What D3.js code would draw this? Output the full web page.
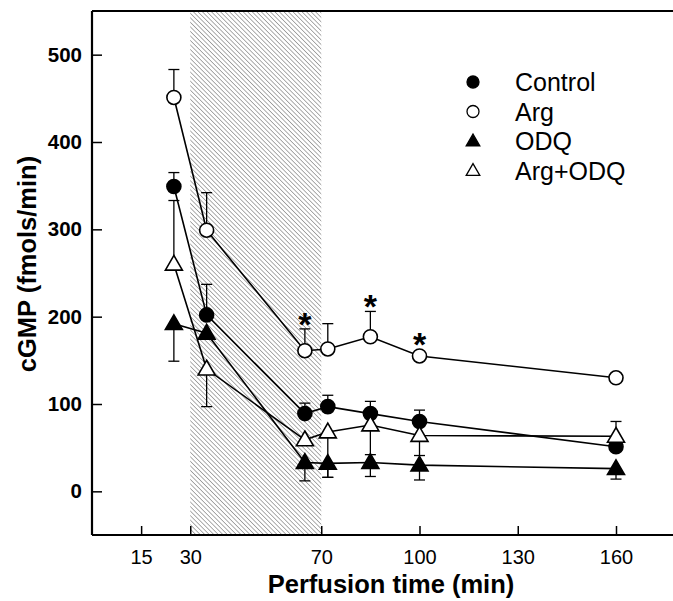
<!DOCTYPE html>
<html><head><meta charset="utf-8">
<script src="https://cdn.jsdelivr.net/npm/d3@7"></script>
<style>
body{margin:0;background:#fff;}
svg{display:block;font-family:"Liberation Sans",Arial,sans-serif;}
</style></head>
<body>
<script>
// ---- data ----
const times = [25, 35, 65, 72, 85, 100, 160];
const seriesNames = ["Control", "Arg", "ODQ", "Arg+ODQ"];
const control = [349, 202, 89, 97, 89, 80, 51];
const controlErrUp = [16, 35, 12, 13, 14, 13, 0];
const controlErrDown = [0, 0, 0, 0, 0, 0, 0];
const arg = [451, 299, 161, 163, 177, 155, 130];
const argErrUp = [32, 43, 25, 29, 29, 0, 0];
const argErrDown = [0, 0, 0, 0, 0, 0, 0];
const odq = [192, 181, 33, 32, 33, 30, 26];
const odqErrUp = [0, 0, 0, 0, 0, 0, 0];
const odqErrDown = [43, 0, 21, 16, 16, 17, 12];
const argOdq = [260, 140, 59, 68, 76, 64, 63];
const argOdqErrUp = [73, 0, 0, 0, 0, 0, 17];
const argOdqErrDown = [0, 43, 0, 52, 34, 23, 0];
const significant = [65, 85, 100]; // Arg points marked *
const shadeRange = [30, 70];
const xTicks = [15, 30, 70, 100, 130, 160];
const yTicks = [0, 100, 200, 300, 400, 500];
const xDomain = [0, 180];
const yDomain = [-50, 550];

const W = 673, H = 601;
const svg = d3.select("body").append("svg").attr("width", W).attr("height", H);
const x = d3.scaleLinear().domain(xDomain).range([92, 681.5]);
const y = d3.scaleLinear().domain(yDomain).range([535, 11]);

// hatch pattern
const defs = svg.append("defs");
const pat = defs.append("pattern").attr("id", "hatch").attr("patternUnits", "userSpaceOnUse")
  .attr("width", 3.2).attr("height", 3.2).attr("patternTransform", "rotate(-45)");
pat.append("line").attr("x1", 0).attr("y1", 0).attr("x2", 0).attr("y2", 3.2)
  .attr("stroke", "#777").attr("stroke-width", 1.2);

svg.append("rect").attr("x", x(shadeRange[0])).attr("y", y(yDomain[1]))
  .attr("width", x(shadeRange[1]) - x(shadeRange[0]))
  .attr("height", y(yDomain[0]) - y(yDomain[1]))
  .attr("fill", "url(#hatch)");

// axes
const xAxis = d3.axisBottom(x).tickValues(xTicks).tickSize(-9).tickPadding(15);
const gx = svg.append("g").attr("transform", `translate(0,${y(yDomain[0])})`).call(xAxis);
gx.select(".domain").remove();
gx.selectAll(".tick line").attr("stroke", "#000").attr("stroke-width", 1.5);
gx.selectAll(".tick text").attr("font-size", 20).attr("fill", "#000")
  .attr("font-family", "Liberation Sans, Arial, sans-serif");

const yAxis = d3.axisLeft(y).tickValues(yTicks).tickSize(-10).tickPadding(10);
const gy = svg.append("g").attr("transform", `translate(${x(0)},0)`).call(yAxis);
gy.select(".domain").remove();
gy.selectAll(".tick line").attr("stroke", "#000").attr("stroke-width", 1.5);
gy.selectAll(".tick text").attr("font-size", 20.5).attr("font-weight", "bold").attr("fill", "#000")
  .attr("font-family", "Liberation Sans, Arial, sans-serif");

// frame
const frame = svg.append("g").attr("stroke", "#000").attr("stroke-width", 2.2).attr("fill", "none");
frame.append("line").attr("x1", x(0)).attr("x2", x(0)).attr("y1", y(yDomain[1])).attr("y2", y(yDomain[0]));
frame.append("line").attr("x1", x(0)).attr("x2", W).attr("y1", y(yDomain[0])).attr("y2", y(yDomain[0]));
frame.append("line").attr("x1", x(0)).attr("x2", W).attr("y1", y(yDomain[1])).attr("y2", y(yDomain[1]));

// titles
svg.append("text").attr("x", 391).attr("y", 593).attr("text-anchor", "middle")
  .attr("font-size", 25.5).attr("font-weight", "bold").text("Perfusion time (min)");
svg.append("text").attr("transform", `translate(36,${264}) rotate(-90)`).attr("text-anchor", "middle")
  .attr("font-size", 25.5).attr("font-weight", "bold").text("cGMP (fmols/min)");

const series = [
  {name: seriesNames[0], vals: control, up: controlErrUp, down: controlErrDown, shape: "circle", fill: "#000"},
  {name: seriesNames[1], vals: arg, up: argErrUp, down: argErrDown, shape: "circle", fill: "#fff"},
  {name: seriesNames[2], vals: odq, up: odqErrUp, down: odqErrDown, shape: "triangle", fill: "#000"},
  {name: seriesNames[3], vals: argOdq, up: argOdqErrUp, down: argOdqErrDown, shape: "triangle", fill: "#fff"}
];

const symCircle = d3.symbol().type(d3.symbolCircle).size(Math.PI * 7 * 7);
const symTri = d3.symbol().type(d3.symbolTriangle).size(125);
const legCircle = d3.symbol().type(d3.symbolCircle).size(Math.PI * 6 * 6);
const legTri = d3.symbol().type(d3.symbolTriangle).size(80);

const line = d3.line().x(d => x(d[0])).y(d => y(d[1]));

// error bars
series.forEach(s => {
  const g = svg.append("g").attr("stroke", "#000").attr("stroke-width", 1.3);
  times.forEach((t, i) => {
    const v = s.vals[i];
    [[s.up[i], 1], [s.down[i], -1]].forEach(([e, dir]) => {
      if (e > 0) {
        const y2 = y(v + dir * e);
        g.append("line").attr("x1", x(t)).attr("x2", x(t)).attr("y1", y(v)).attr("y2", y2);
        g.append("line").attr("x1", x(t) - 5.5).attr("x2", x(t) + 5.5).attr("y1", y2).attr("y2", y2);
      }
    });
  });
});

// lines
series.forEach(s => {
  svg.append("path").datum(times.map((t, i) => [t, s.vals[i]]))
    .attr("d", line).attr("fill", "none").attr("stroke", "#000").attr("stroke-width", 1.6);
});

// markers
series.forEach(s => {
  const sym = s.shape === "circle" ? symCircle : symTri;
  svg.append("g").selectAll("path").data(times.map((t, i) => [t, s.vals[i]])).join("path")
    .attr("d", sym)
    .attr("transform", d => `translate(${x(d[0])},${y(d[1]) + (s.shape === "triangle" ? 1 : 0)})`)
    .attr("fill", s.fill).attr("stroke", "#000").attr("stroke-width", 1.6);
});

// significance stars
significant.forEach(t => {
  const i = times.indexOf(t);
  const top = Math.min(y(arg[i] + argErrUp[i]), y(arg[i]) - 7);
  svg.append("text").attr("x", x(t)).attr("y", top + 7).attr("text-anchor", "middle")
    .attr("font-size", 34).attr("font-weight", "bold").text("*");
});

// legend
const leg = svg.append("g");
series.forEach((s, i) => {
  const ly = 82 + i * 29.5;
  const sym = s.shape === "circle" ? legCircle : legTri;
  leg.append("path").attr("d", sym).attr("transform", `translate(473,${ly + (s.shape === "triangle" ? 1 : 0)})`)
    .attr("fill", s.fill).attr("stroke", "#000").attr("stroke-width", 1.3);
  leg.append("text").attr("x", 515).attr("y", ly).attr("dy", "0.36em")
    .attr("font-size", 25).text(s.name);
});
</script>
</body></html>
